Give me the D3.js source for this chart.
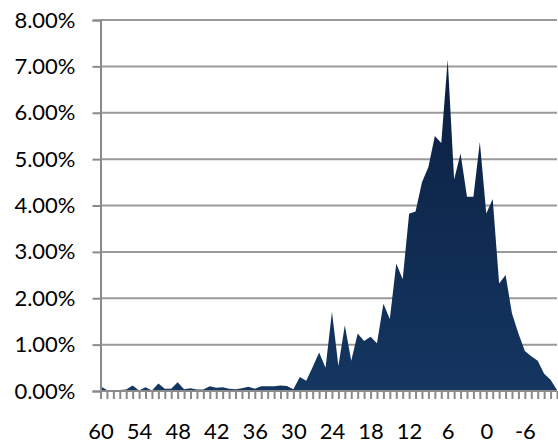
<!DOCTYPE html>
<html><head><meta charset="utf-8">
<script src="https://cdn.jsdelivr.net/npm/d3@7"></script>
<style>body{margin:0;background:#fff}svg{display:block}</style>
</head><body>
<script>
const categories = d3.range(60, -12, -1); // 60 .. -11
const values = [
  0.10,0.02,0.02,0.02,0.03,0.12,0.01,0.08,0.01,0.16, // 60..51
  0.05,0.05,0.19,0.04,0.06,0.03,0.03,0.10,0.07,0.08, // 50..41
  0.05,0.04,0.06,0.09,0.05,0.10,0.10,0.10,0.12,0.11, // 40..31
  0.04,0.30,0.22,0.52,0.83,0.50,1.71,0.54,1.42,0.65, // 30..21
  1.24,1.08,1.17,1.03,1.88,1.55,2.75,2.41,3.82,3.87, // 20..11
  4.50,4.83,5.50,5.35,7.15,4.56,5.12,4.19,4.19,5.37, // 10..1
  3.83,4.14,2.32,2.50,1.67,1.24,0.86,0.75,0.65,0.37, // 0..-9
  0.24,0.02                                          // -10..-11
];
const tickLabels = [60,54,48,42,36,30,24,18,12,6,0,-6];
const yTicks = [0,1,2,3,4,5,6,7,8];

(function(){
const W = 558, H = 447;
const mLeft = 100.5, mRight = 557, mTop = 20, mBottom = 391;
const svg = d3.select("body").append("svg").attr("width", W).attr("height", H);

const x = d3.scalePoint().domain(categories).range([mLeft, mRight]);
const y = d3.scaleLinear().domain([0, 8]).range([mBottom, mTop]);

const defs = svg.append("defs");
const grad = defs.append("linearGradient").attr("id","g").attr("gradientUnits","userSpaceOnUse")
  .attr("x1",0).attr("x2",0).attr("y1",y(7.2)).attr("y2",y(0));
grad.append("stop").attr("offset","0%").attr("stop-color","#0b1f40");
grad.append("stop").attr("offset","100%").attr("stop-color","#143661");

// gridlines
svg.append("g").selectAll("line").data(yTicks.filter(d=>d>0)).join("line")
  .attr("x1", mLeft).attr("x2", mRight)
  .attr("y1", d=>y(d)).attr("y2", d=>y(d))
  .attr("stroke","#9a9a9a").attr("stroke-width",2);

// area
const area = d3.area().x((d,i)=>x(categories[i])).y0(y(0)).y1(d=>y(d));
svg.append("path").datum(values).attr("d", area).attr("fill","url(#g)");

const font = "Lato, 'Open Sans', sans-serif";

// y axis
const yAxis = d3.axisLeft(y).tickValues(yTicks).tickSize(8).tickPadding(17)
  .tickFormat(d => d.toFixed(2) + "%");
const yg = svg.append("g").attr("transform",`translate(${mLeft},0)`).call(yAxis);
yg.select(".domain").attr("stroke","#8a8a8a").attr("stroke-width",2);
yg.selectAll(".tick line").attr("stroke","#8a8a8a").attr("stroke-width",2);
yg.selectAll("text").attr("font-family",font).attr("font-size",22).attr("fill","#000");

// x axis
const xAxis = d3.axisBottom(x).tickValues(categories).tickSize(8).tickPadding(24)
  .tickFormat(d => tickLabels.includes(d) ? String(d) : "");
const xg = svg.append("g").attr("transform",`translate(0,${mBottom})`).call(xAxis);
xg.select(".domain").attr("stroke","#8a8a8a").attr("stroke-width",2).attr("d",`M${mLeft},0H${mRight}`);
xg.selectAll(".tick line").attr("stroke","#8a8a8a").attr("stroke-width",2);
xg.selectAll("text").attr("font-family",font).attr("font-size",22).attr("fill","#000");
})();
</script>
</body></html>
